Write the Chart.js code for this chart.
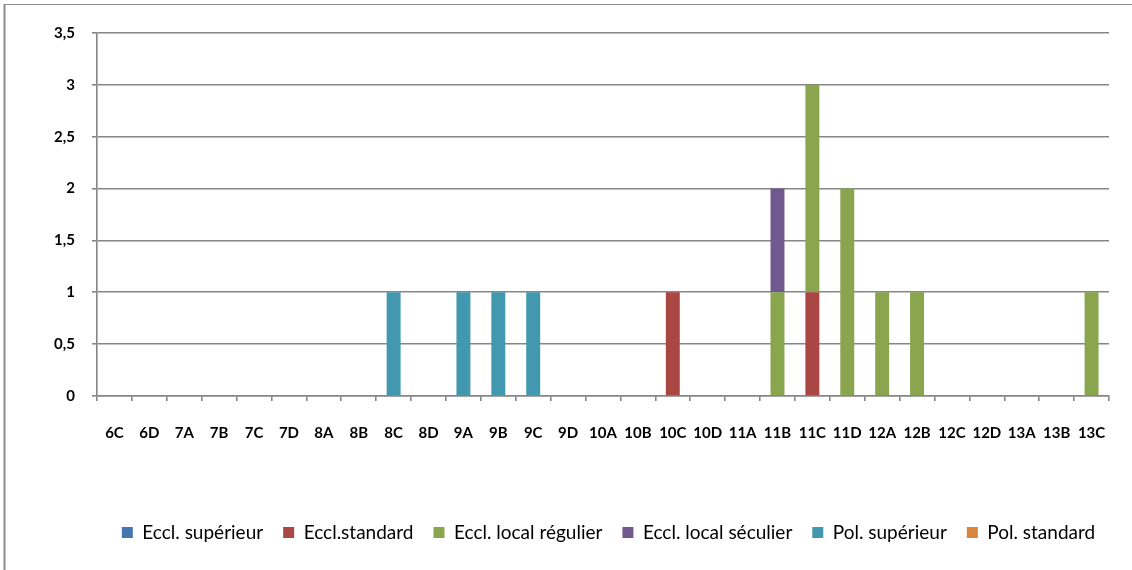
<!DOCTYPE html>
<html>
<head>
<meta charset="utf-8">
<script src="https://cdn.jsdelivr.net/npm/chart.js@4.4.1/dist/chart.umd.min.js"></script>
<style>
  html, body { margin: 0; padding: 0; background: #ffffff; }
  #wrap { position: relative; width: 1132px; height: 570px; }
  canvas { display: block; }
</style>
</head>
<body>
<div id="wrap"><canvas id="c" width="1132" height="570"></canvas></div>
<script>
const categories = ['6C','6D','7A','7B','7C','7D','8A','8B','8C','8D','9A','9B','9C','9D','10A','10B','10C','10D','11A','11B','11C','11D','12A','12B','12C','12D','13A','13B','13C'];

const seriesNames = ['Eccl. supérieur', 'Eccl.standard', 'Eccl. local régulier', 'Eccl. local séculier', 'Pol. supérieur', 'Pol. standard'];
const seriesColors = ['#4676B0', '#AA4643', '#89A54E', '#71588F', '#4198AF', '#DB843D'];

const ecclSuperieur   = [0,0,0,0,0,0,0,0,0,0,0,0,0,0,0,0,0,0,0,0,0,0,0,0,0,0,0,0,0];
const ecclStandard    = [0,0,0,0,0,0,0,0,0,0,0,0,0,0,0,0,1,0,0,0,1,0,0,0,0,0,0,0,0];
const ecclLocalRegul  = [0,0,0,0,0,0,0,0,0,0,0,0,0,0,0,0,0,0,0,1,2,2,1,1,0,0,0,0,1];
const ecclLocalSecul  = [0,0,0,0,0,0,0,0,0,0,0,0,0,0,0,0,0,0,0,1,0,0,0,0,0,0,0,0,0];
const polSuperieur    = [0,0,0,0,0,0,0,0,1,0,1,1,1,0,0,0,0,0,0,0,0,0,0,0,0,0,0,0,0];
const polStandard     = [0,0,0,0,0,0,0,0,0,0,0,0,0,0,0,0,0,0,0,0,0,0,0,0,0,0,0,0,0];

const yTickLabels = {0:'0', 0.5:'0,5', 1:'1', 1.5:'1,5', 2:'2', 2.5:'2,5', 3:'3', 3.5:'3,5'};

const seriesValues = [ecclSuperieur, ecclStandard, ecclLocalRegul, ecclLocalSecul, polSuperieur, polStandard];

const GRID = '#868686';
const legendShift = 54;

const frame = {
  id: 'frame',
  beforeDraw(chart) {
    const ctx = chart.ctx;
    ctx.save();
    ctx.strokeStyle = '#8c8c8c';
    ctx.lineWidth = 2;
    ctx.beginPath();
    ctx.moveTo(4.5, 570);
    ctx.lineTo(4.5, 4);
    ctx.stroke();
    ctx.lineWidth = 1.2;
    ctx.beginPath();
    ctx.moveTo(4, 4.5);
    ctx.lineTo(1132, 4.5);
    ctx.stroke();
    ctx.restore();
    if (chart.legend) {
      chart.legend.left += legendShift;
      chart.legend.right += legendShift;
    }
  },
  afterDraw(chart) {
    if (chart.legend) {
      chart.legend.left -= legendShift;
      chart.legend.right -= legendShift;
    }
  }
};

new Chart(document.getElementById('c'), {
  type: 'bar',
  data: {
    labels: categories,
    datasets: seriesNames.map((name, i) => ({
      label: name,
      data: seriesValues[i],
      backgroundColor: seriesColors[i],
      borderWidth: 0,
      barPercentage: 0.4,
      categoryPercentage: 1.0
    }))
  },
  options: {
    responsive: false,
    animation: false,
    layout: { padding: { top: 33, right: 23, bottom: 18, left: 0 } },
    plugins: {
      tooltip: { enabled: false },
      legend: {
        position: 'bottom',
        align: 'center',
        labels: {
          boxWidth: 11,
          boxHeight: 11,
          padding: 20,
          color: '#000000',
          font: { family: 'Lato', size: 19 }
        }
      }
    },
    scales: {
      x: {
        stacked: true,
        afterFit(scale) { scale.height = 107; },
        border: { display: true, color: GRID, width: 1.6 },
        grid: { display: true, drawOnChartArea: false, drawTicks: true, tickLength: 5, color: GRID, lineWidth: 1.6 },
        ticks: {
          color: '#000000',
          padding: 23,
          maxRotation: 0,
          autoSkip: false,
          font: { family: 'Lato', size: 15, weight: 'bold' }
        }
      },
      y: {
        stacked: true,
        min: 0,
        max: 3.5,
        afterFit(scale) { scale.width = 97; },
        border: { display: true, color: GRID, width: 1.6 },
        grid: { color: GRID, lineWidth: 1.6, tickLength: 5, drawTicks: true },
        ticks: {
          stepSize: 0.5,
          color: '#000000',
          padding: 17,
          font: { family: 'Lato', size: 15, weight: 'bold' },
          callback: (v) => yTickLabels[v] !== undefined ? yTickLabels[v] : ''
        }
      }
    }
  },
  plugins: [frame]
});
</script>
</body>
</html>
